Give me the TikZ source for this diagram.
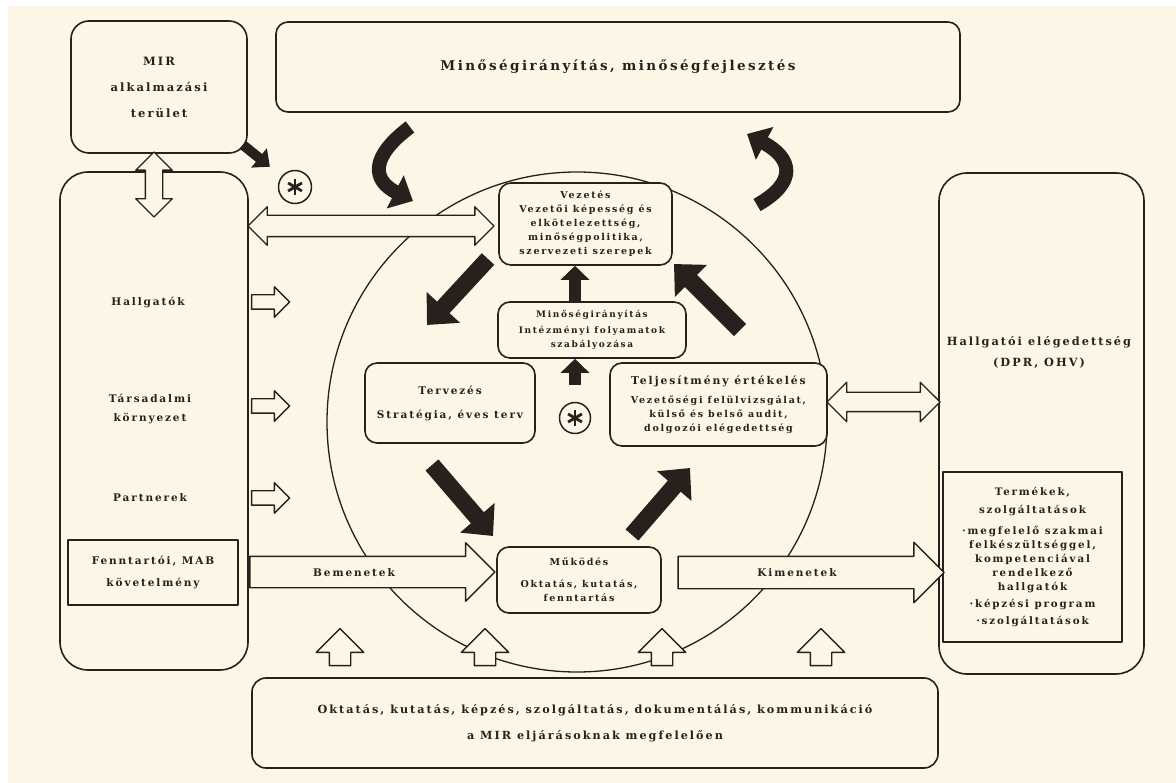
\documentclass[tikz,border=0pt]{standalone}
\usepackage{fontspec}
\setmainfont{DejaVu Serif}[LetterSpace=18]
\usetikzlibrary{calc}
\usetikzlibrary{arrows.meta,shapes.arrows}

\begin{document}
\begin{tikzpicture}[x=1pt,y=-1pt,line join=round,
  box/.style={draw=ink,line width=1.6pt,fill=paper,rounded corners=12pt,inner sep=0pt,align=center,text=ink},
  sqbox/.style={draw=ink,line width=1.6pt,fill=paper,inner sep=0pt,align=center,text=ink},
  lbl/.style={align=center,text=ink,font=\bfseries\fontsize{10.5}{19}\selectfont},
  fsmall/.style={font=\bfseries\fontsize{9.5}{14}\selectfont},
  hollow/.style={single arrow,draw=ink,line width=1.4pt,fill=paper,inner sep=0pt,text=ink},
  hollowtwo/.style={double arrow,draw=ink,line width=1.4pt,fill=paper,inner sep=0pt},
  bigblk/.style={draw=ink,line width=17pt,-{Triangle[length=24pt,width=44pt]}},
  curvblk/.style={draw=ink,line width=14pt,-{Triangle[length=20pt,width=36pt]}},
  midblk/.style={draw=ink,line width=10pt,-{Triangle[length=14pt,width=24pt]}},
  smallblk/.style={draw=ink,line width=12pt,-{Triangle[length=14pt,width=28pt]}},
  starc/.style={circle,draw=ink,line width=1.5pt,fill=paper,minimum size=33pt,inner sep=0pt}]
\definecolor{paper}{RGB}{253,246,230}
\definecolor{ink}{RGB}{40,32,28}
\useasboundingbox (0,0) rectangle (1176,783);
\fill[white] (0,0) rectangle (1176,783);
\fill[paper] (8,6) rectangle (1176,783);

% the cycle
\draw[ink,line width=1.3pt] (577,422) circle (250);

% outer frame boxes
\node[box,rounded corners=18pt,minimum width=176,minimum height=132,font=\bfseries\fontsize{11.5}{26}\selectfont] (mir) at (159,87) {MIR\\alkalmazási\\terület};
\node[box,minimum width=684,minimum height=90,font=\bfseries\fontsize{13.5}{16}\selectfont] (top) at (618,67) {Minőségirányítás, minőségfejlesztés};
\node[box,rounded corners=28pt,minimum width=188,minimum height=498] (left) at (154,421) {};
\node[lbl] (hallg) at (148,302) {Hallgatók};
\node[lbl] (tars) at (150,409) {Társadalmi\\környezet};
\node[lbl] (partn) at (150,498) {Partnerek};
\node[sqbox,minimum width=170,minimum height=65,font=\bfseries\fontsize{10.5}{22}\selectfont] (fenn) at (153,572.5) {Fenntartói, MAB\\követelmény};
\node[box,rounded corners=28pt,minimum width=205,minimum height=501] (right) at (1041.5,423.5) {};
\node[lbl,font=\bfseries\fontsize{11.3}{21}\selectfont] (eleg) at (1039,352) {Hallgatói elégedettség\\(DPR, OHV)};
\node[sqbox,minimum width=179,minimum height=170,font=\bfseries\fontsize{10.3}{14}\selectfont] (term) at (1032.5,557) {Termékek,\\[4pt]szolgáltatások\\[7pt]·megfelelő szakmai\\felkészültséggel,\\kompetenciával\\rendelkező\\hallgatók\\[3pt]·képzési program\\[3pt]·szolgáltatások};
\node[box,rounded corners=14pt,minimum width=686,minimum height=90,font=\bfseries\fontsize{11.2}{26}\selectfont] (bottom) at (595,723) {Oktatás, kutatás, képzés, szolgáltatás, dokumentálás, kommunikáció\\a MIR eljárásoknak megfelelően};

% hollow arrows
\node[hollowtwo,rotate=90,minimum height=65,text height=8pt,text depth=8pt,double arrow head extend=9.5] (mirleft) at (154,184.5) {};
\node[hollowtwo,minimum height=246,text height=10pt,text depth=10pt,double arrow head extend=8.5] (leftvez) at (371,226) {};
\node[hollowtwo,minimum height=113,text height=9pt,text depth=9pt,double arrow head extend=10] (teljright) at (883.5,402) {};
\foreach \ay/\an in {302/ah,406/at,498/ap}
  \node[hollow,minimum height=38,text height=6.5pt,text depth=6.5pt,single arrow head extend=8] (\an) at (267,\ay) {};
\foreach \ux/\un in {340/u1,485/u2,662/u3,821/u4}
  \node[hollow,rotate=90,minimum height=37,text height=10pt,text depth=10pt,single arrow head extend=13] (\un) at (\ux,652.5) {};

% the cycle boxes
\node[box,minimum width=173,minimum height=82,fsmall] (vez) at (585.5,224) {Vezetés\\Vezetői képesség és\\elkötelezettség,\\minőségpolitika,\\szervezeti szerepek};
\node[box,minimum width=188,minimum height=56,fsmall,font=\bfseries\fontsize{9}{14}\selectfont] (minir) at (592,330) {Minőségirányítás\\[2pt]Intézményi folyamatok\\szabályozása};
\node[box,minimum width=170,minimum height=80,fsmall,font=\bfseries\fontsize{10.5}{14}\selectfont] (terv) at (450,403) {Tervezés\\[10pt]Stratégia, éves terv};
\node[box,minimum width=217,minimum height=83,fsmall] (telj) at (718.5,404.5) {{\fontsize{10.8}{14}\selectfont Teljesítmény értékelés}\\[5pt]Vezetőségi felülvizsgálat,\\külső és belső audit,\\dolgozói elégedettség};
\node[box,minimum width=164,minimum height=66,fsmall] (mukod) at (579,580) {Működés\\[8pt]Oktatás, kutatás,\\fenntartás};

\node[hollow,minimum height=245,text height=19pt,text depth=11pt,single arrow head extend=13.5,font=\bfseries\fontsize{10.5}{12}\selectfont] (bemen) at (364.5,572) {Bemenetek\hspace*{21pt}};
\node[hollow,minimum height=266,text height=19.5pt,text depth=11.5pt,single arrow head extend=14,font=\bfseries\fontsize{10.5}{12}\selectfont] (kimen) at (803,572.5) {Kimenetek\hspace*{12pt}};

% asterisks
\node[starc] (star1) at (295,187) {};
\node[starc,minimum size=31pt] (star2) at (575,418) {};
\foreach \s in {star1,star2}
  \foreach \a in {90,30,150}
    \draw[ink,line width=2.8pt] ($(\s)+(\a:8)$) -- ($(\s)+(\a+180:8)$);

% black arrows
\coordinate (k1) at (488,259);
\coordinate (k2) at (427,325);
\coordinate (k3) at (432,465);
\coordinate (k4) at (493,536);
\coordinate (k5) at (632,535);
\coordinate (k6) at (690,468);
\coordinate (k7) at (740,330);
\coordinate (k8) at (674,264);
\draw[bigblk] (k1) -- (k2);
\draw[bigblk] (k3) -- (k4);
\draw[bigblk] (k5) -- (k6);
\draw[bigblk] (k7) -- (k8);
\draw[smallblk] (minir.north -| star2) -- (vez.south -| star2);
\draw[smallblk,shorten <=17pt] (star2) -- (minir.south -| star2);
\draw[midblk,shorten >=15pt] ($(mir.south east)+(-5,-9)$) -- (star1);

\coordinate (cl1) at (410,127);
\coordinate (cl2) at (413,201);
\coordinate (cr1) at (757,205);
\coordinate (cr2) at (747,134);
\draw[curvblk] (cl1) .. controls (370,157) and (372,180) .. (cl2);
\draw[curvblk] (cr1) .. controls (798,182) and (792,158) .. (cr2);
\end{tikzpicture}
\end{document}
